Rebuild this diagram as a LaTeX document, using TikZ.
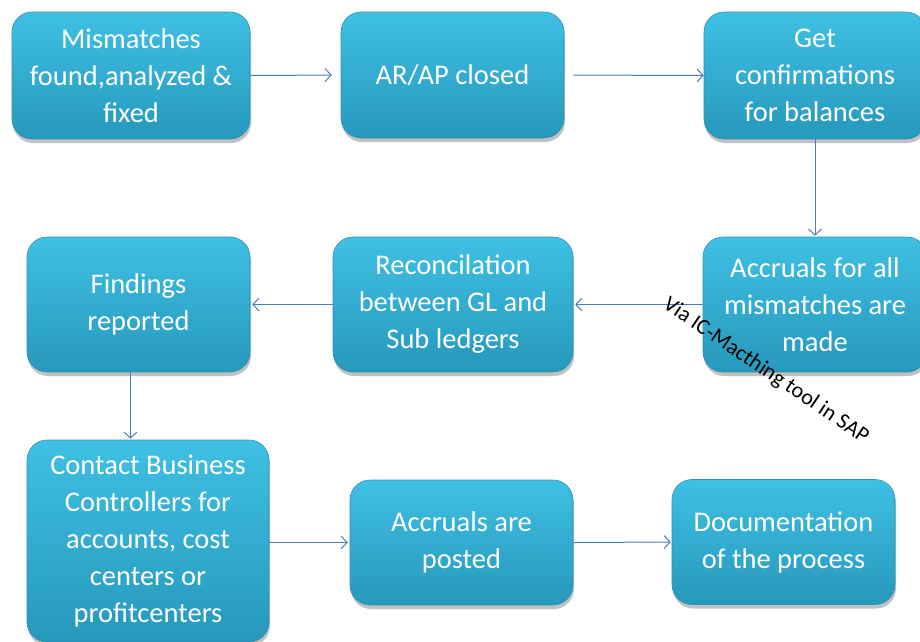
\documentclass[tikz,border=0pt]{standalone}
\usepackage{fontspec}
\setmainfont{Carlito}
\usetikzlibrary{arrows.meta,shadows}
\definecolor{boxtop}{HTML}{3FC0E4}
\definecolor{boxbot}{HTML}{2698BC}
\definecolor{boxedge}{HTML}{2A93B6}
\definecolor{arrowblue}{HTML}{4A7EBB}
\tikzset{
  stepbox/.style={rectangle, rounded corners=20pt, draw=boxedge, line width=0.6pt,
    top color=boxtop, bottom color=boxbot, text=white, align=center,
    font=\fontsize{28.5}{37}\selectfont, inner sep=0pt,
    drop shadow={shadow xshift=1pt, shadow yshift=-4pt, opacity=0.35, fill=black!70}},
  arr/.style={draw=arrowblue, line width=1pt, -{Straight Barb[length=6pt,width=13pt]}},
  note/.style={font=\fontsize{22}{24}\selectfont, text=black, inner sep=0pt}
}
\begin{document}
\begin{tikzpicture}[x=1pt,y=-1pt]
\useasboundingbox (0,0) rectangle (920,641);
\clip (0,0) rectangle (920,641);
\node[stepbox, minimum width=238pt, minimum height=127pt] (n1) at (131,75.5) {Mismatches\\found,analyzed \&\\fixed};
\node[stepbox, minimum width=223pt, minimum height=126pt] (n2) at (452.5,75) {AR/AP closed};
\node[stepbox, minimum width=222pt, minimum height=127pt] (n3) at (815,75.5) {Get\\confirmations\\for balances};
\node[stepbox, minimum width=224pt, minimum height=135pt] (n4) at (815,304.5) {Accruals for all\\mismatches are\\made};
\node[stepbox, minimum width=240pt, minimum height=135pt] (n5) at (453,304.5) {Reconcilation\\between GL and\\Sub ledgers};
\node[stepbox, minimum width=223pt, minimum height=135pt] (n6) at (138.5,304.5) {Findings\\reported};
\node[stepbox, minimum width=242pt, minimum height=202pt] (n7) at (148,541) {Contact Business\\Controllers for\\accounts, cost\\centers or\\profitcenters};
\node[stepbox, minimum width=223pt, minimum height=125pt] (n8) at (461.5,542.5) {Accruals are\\posted};
\node[stepbox, minimum width=223pt, minimum height=125pt] (n9) at (783.5,542) {Documentation\\of the process};

\draw[arr, shorten >=9pt] (n1.east) -- (n2.west);
\draw[arr, shorten <=9pt] (n2.east) -- (n3.west);
\draw[arr, shorten >=1pt] (n3.south) -- (n4.north);
\draw[arr, shorten >=2pt] (n4.west) -- (n5.east);
\draw[arr, shorten >=2pt] (n5.west) -- (n6.east);
\draw[arr, shorten >=1pt] ([xshift=-8pt]n6.south) -- ([xshift=-8pt]n6.south |- n7.north);
\draw[arr, shorten >=2pt] (n7.east |- n8.west) -- (n8.west);
\draw[arr, shorten >=1pt] (n8.east) -- (n9.west);

\node[note, rotate=-34] (lbl) at (766,371) {Via IC-Macthing tool in SAP};
\end{tikzpicture}
\end{document}
